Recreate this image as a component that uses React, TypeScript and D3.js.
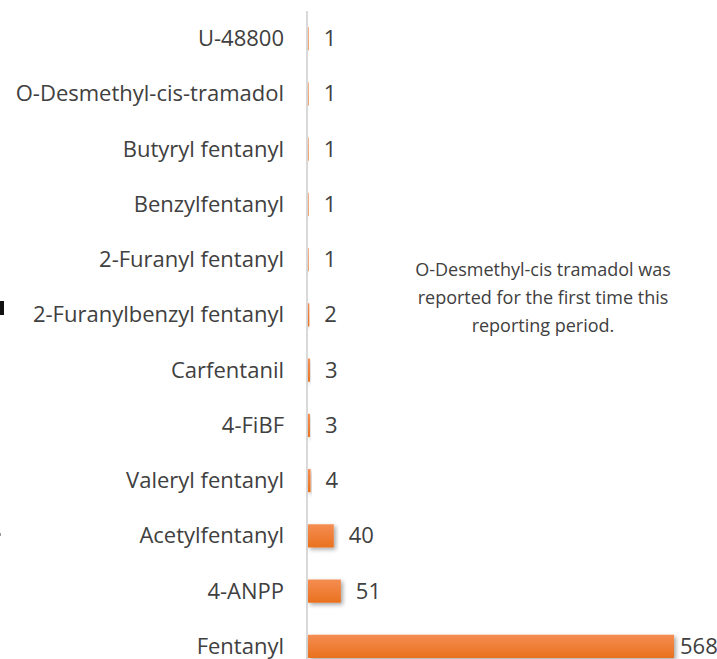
import { useEffect, useRef } from 'react';
import * as d3 from 'd3';

const substances = [
  'U-48800',
  'O-Desmethyl-cis-tramadol',
  'Butyryl fentanyl',
  'Benzylfentanyl',
  '2-Furanyl fentanyl',
  '2-Furanylbenzyl fentanyl',
  'Carfentanil',
  '4-FiBF',
  'Valeryl fentanyl',
  'Acetylfentanyl',
  '4-ANPP',
  'Fentanyl',
];
const reports = [1, 1, 1, 1, 1, 2, 3, 3, 4, 40, 51, 568];
const noteLines = [
  'O-Desmethyl-cis tramadol was',
  'reported for the first time this',
  'reporting period.',
];

const width = 717;
const height = 659;

function App() {
  const ref = useRef<SVGSVGElement>(null);

  useEffect(() => {
    const svg = d3.select(ref.current);
    svg.selectAll('*').remove();

    const x0 = 307;
    const xScale = d3.scaleLinear().domain([0, 568]).range([x0, 673]);
    const yScale = d3
      .scaleBand()
      .domain(substances)
      .range([11, 674])
      .paddingInner(0.58)
      .paddingOuter(0.29);

    const defs = svg.append('defs');
    const grad = defs
      .append('linearGradient')
      .attr('id', 'barGrad')
      .attr('x1', 0).attr('y1', 0).attr('x2', 0).attr('y2', 1);
    grad.append('stop').attr('offset', '0%').attr('stop-color', '#f58d52');
    grad.append('stop').attr('offset', '100%').attr('stop-color', '#e9711e');
    const shadow = defs.append('filter').attr('id', 'shadow')
      .attr('x', '-10%').attr('y', '-30%').attr('width', '130%').attr('height', '180%');
    shadow.append('feDropShadow')
      .attr('dx', 2).attr('dy', 2).attr('stdDeviation', 2)
      .attr('flood-color', '#000').attr('flood-opacity', 0.35);

    // stray marks at the left edge of the picture
    svg.append('rect').attr('x', 0).attr('y', 301).attr('width', 4).attr('height', 14).attr('fill', '#111');
    svg.append('rect').attr('x', 0).attr('y', 533).attr('width', 1).attr('height', 3).attr('fill', '#999');

    svg.append('line')
      .attr('x1', x0).attr('x2', x0)
      .attr('y1', 11).attr('y2', height)
      .attr('stroke', '#d9d9d9').attr('stroke-width', 2);

    svg.append('g')
      .selectAll('rect')
      .data(reports)
      .join('rect')
      .attr('x', x0 + 1)
      .attr('y', (d, i) => yScale(substances[i])!)
      .attr('width', d => xScale(d) - x0)
      .attr('height', yScale.bandwidth())
      .attr('fill', 'url(#barGrad)')
      .attr('filter', 'url(#shadow)');

    svg.append('g')
      .selectAll('text')
      .data(substances)
      .join('text')
      .attr('x', 284)
      .attr('y', d => yScale(d)! + yScale.bandwidth() / 2)
      .attr('dy', '0.34em')
      .attr('text-anchor', 'end')
      .attr('font-family', 'Open Sans')
      .attr('font-size', 22)
      .attr('fill', '#404040')
      .text(d => d);

    const maxVal = d3.max(reports)!;
    svg.append('g')
      .selectAll('text')
      .data(reports)
      .join('text')
      .attr('x', d => xScale(d) + (d === maxVal ? 7 : 16))
      .attr('y', (d, i) => yScale(substances[i])! + yScale.bandwidth() / 2)
      .attr('dy', '0.34em')
      .attr('font-family', 'Open Sans')
      .attr('font-size', 22)
      .attr('fill', '#404040')
      .text(d => d);

    svg.append('g')
      .selectAll('text')
      .data(noteLines)
      .join('text')
      .attr('x', 543)
      .attr('y', (d, i) => 270 + i * 28)
      .attr('dy', '0.36em')
      .attr('text-anchor', 'middle')
      .attr('font-family', 'Open Sans')
      .attr('font-size', 18)
      .attr('fill', '#404040')
      .text(d => d);
  }, []);

  return (
    <svg
      ref={ref}
      width={width}
      height={height}
      style={{ position: 'absolute', left: 0, top: 0, background: '#fff' }}
    />
  );
}

export default App;
